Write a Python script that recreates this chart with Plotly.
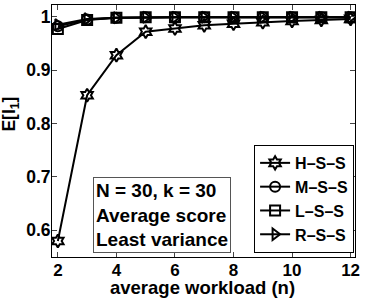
import plotly.graph_objects as go

n = [2, 3, 4, 5, 6, 7, 8, 9, 10, 11, 12]
hss = [0.58, 0.853, 0.928, 0.972, 0.978, 0.984, 0.987, 0.990, 0.992, 0.994, 0.996]
mss = [0.982, 0.995, 0.998, 0.999, 0.999, 0.999, 0.999, 0.999, 0.999, 0.999, 0.999]
lss = [0.977, 0.994, 0.998, 0.999, 0.999, 0.999, 0.999, 0.999, 0.999, 0.999, 0.999]
rss = [0.985, 0.996, 0.998, 0.999, 0.999, 0.999, 0.999, 0.999, 0.999, 0.999, 0.999]
names = ["H\u2013S\u2013S", "M\u2013S\u2013S", "L\u2013S\u2013S", "R\u2013S\u2013S"]
symbols = ["hexagram-open", "circle-open", "square-open", "triangle-right-open"]
series = [hss, mss, lss, rss]
xticks = [2, 4, 6, 8, 10, 12]
yticks = [0.6, 0.7, 0.8, 0.9, 1.0]
yticklabels = ["0.6", "0.7", "0.8", "0.9", "1"]

fig = go.Figure()
for name, sym, ys in zip(names, symbols, series):
    fig.add_trace(go.Scatter(
        x=n, y=ys, name=name, mode="lines+markers",
        line=dict(color="black", width=2),
        marker=dict(symbol=sym, size=10, color="black", line=dict(color="black", width=2)),
    ))

font = "Liberation Sans, Arial, sans-serif"
fig.update_layout(
    width=378, height=300,
    margin=dict(l=52, r=23, t=5, b=43, autoexpand=False),
    plot_bgcolor="white", paper_bgcolor="white",
    font=dict(family=font, size=17, color="black", weight="bold"),
    showlegend=True,
    legend=dict(
        x=0.997, y=0.016, xanchor="right", yanchor="bottom",
        bgcolor="white", bordercolor="black", borderwidth=1,
        font=dict(size=16, family=font, weight="bold"), itemwidth=30,
    ),
)
fig.update_xaxes(
    range=[1.8, 12.15], tickvals=xticks, automargin=False,
    ticks="inside", ticklen=5, mirror="ticks", showline=True, linecolor="black", linewidth=1,
    showgrid=False, zeroline=False, ticklabelstandoff=-2,
    tickfont=dict(size=17, family=font, weight="bold"),
)
fig.update_yaxes(
    range=[0.55, 1.022], tickvals=yticks, ticktext=yticklabels, automargin=False,
    ticks="inside", ticklen=5, mirror="ticks", showline=True, linecolor="black", linewidth=1,
    showgrid=False, zeroline=False, ticklabelstandoff=-3,
    tickfont=dict(size=17.5, family=font, weight="bold"),
)

# axis titles
fig.add_annotation(
    xref="paper", yref="paper", x=0.497, y=-0.165, xanchor="center", yanchor="bottom",
    text="average workload (n)", showarrow=False,
    font=dict(size=18.5, family=font, weight="bold"), borderpad=0,
)
fig.add_annotation(
    xref="paper", yref="paper", x=-0.137, y=0.567, xanchor="center", yanchor="middle",
    text="E[I<sub>1</sub>]", showarrow=False, textangle=-90,
    font=dict(size=17.5, family=font, weight="bold"),
)

fig.add_annotation(
    xref="paper", yref="paper", x=0.135, y=0.016, xanchor="left", yanchor="bottom",
    text="N = 30, k = 30<br>Average score<br>Least variance",
    showarrow=False, align="left", font=dict(size=19, family=font, weight="bold"),
    bordercolor="#555555", borderwidth=1, borderpad=2, bgcolor="white",
)

fig.write_html("out.html", config={"displayModeBar": False},
               post_script="document.body.style.margin='0';")
